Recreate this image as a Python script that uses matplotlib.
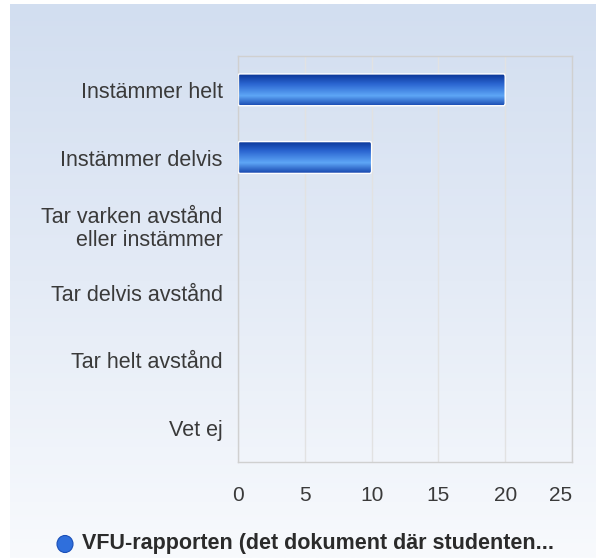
import matplotlib
matplotlib.use("Agg")
import matplotlib.pyplot as plt
import numpy as np
from matplotlib.patches import FancyBboxPatch
from matplotlib.colors import LinearSegmentedColormap

categories = ["Instämmer helt", "Instämmer delvis", "Tar varken avstånd\neller instämmer",
              "Tar delvis avstånd", "Tar helt avstånd", "Vet ej"]
values = [20, 10, 0, 0, 0, 0]
xticks = [0, 5, 10, 15, 20, 25]
series_name = "VFU-rapporten (det dokument där studenten..."

plt.rcParams['font.family'] = ['Liberation Sans', 'DejaVu Sans']
W, H = 596, 558
fig = plt.figure(figsize=(W / 100, H / 100), dpi=100)
fig.patch.set_facecolor("white")

# background gradient panel
bg = fig.add_axes([10 / W, 0, 1 - 10 / W, 1 - 4 / H])
bg.set_axis_off()
grad = np.linspace(0, 1, 256).reshape(-1, 1)
bgcmap = LinearSegmentedColormap.from_list("bg", ["#d2def0", "#e4ebf6", "#f8fafd"])
bg.imshow(grad, aspect="auto", cmap=bgcmap, extent=[0, 1, 0, 1], origin="upper")
bg.set_xlim(0, 1)
bg.set_ylim(0, 1)

ax = fig.add_axes([238 / W, 1 - 462 / H, (572 - 238) / W, (462 - 56) / H])
ax.patch.set_alpha(0)
n = len(categories)
ypos = np.arange(n)
ax.set_xlim(0, 25)
ax.set_xticks(xticks)
ax.xaxis.grid(True, color="#e2e2e2", lw=1)
ax.set_axisbelow(True)
for s in ax.spines.values():
    s.set_color("#d0d0d0")
    s.set_linewidth(1)
ax.tick_params(length=0, labelsize=15, colors="#3a3a3a")
ax.tick_params(axis="x", pad=17)
ax.tick_params(axis="y", pad=11)
ax.set_yticks(ypos)
ax.set_yticklabels(categories, fontsize=15.5, color="#3a3a3a", linespacing=1.15)
for t in ax.get_yticklabels():
    t.set_horizontalalignment("right")
    t.set_multialignment("right")
xl = ax.get_xticklabels()
xl[-1].set_horizontalalignment("right")
xl[-1].set_x(25)

barcmap = LinearSegmentedColormap.from_list(
    "bar", [(0, "#0a3596"), (0.3, "#2a64d0"), (0.68, "#5ea6f6"), (1, "#1848b0")])
bh = 0.47
for y, v in zip(ypos, values):
    if v <= 0:
        continue
    outline = FancyBboxPatch((0, y - bh / 2), v, bh,
                             boxstyle="round,pad=0,rounding_size=0.12",
                             mutation_aspect=0.35,
                             fc="none", ec="white", lw=1.0, zorder=3)
    ax.add_patch(outline)
    im = ax.imshow(np.linspace(0, 1, 100).reshape(-1, 1), cmap=barcmap, aspect="auto",
                   extent=[0, v, y + bh / 2, y - bh / 2], origin="upper", zorder=2)
    im.set_clip_path(outline)
ax.set_xlim(0, 25)
ax.set_ylim(n - 0.5, -0.5)

# legend
leg_y = 1 - 544 / H
fig.patches.append(matplotlib.patches.Ellipse((65 / W, leg_y), 16 / W, 17 / H,
                                              transform=fig.transFigure, fc="#2f6fdc",
                                              ec="#1a4fb8", lw=0.8))
fig.text(82 / W, leg_y, series_name, fontsize=15.5, fontweight="bold", color="#2b2b2b",
         va="center", ha="left")

fig.savefig("out.png", dpi=100)
